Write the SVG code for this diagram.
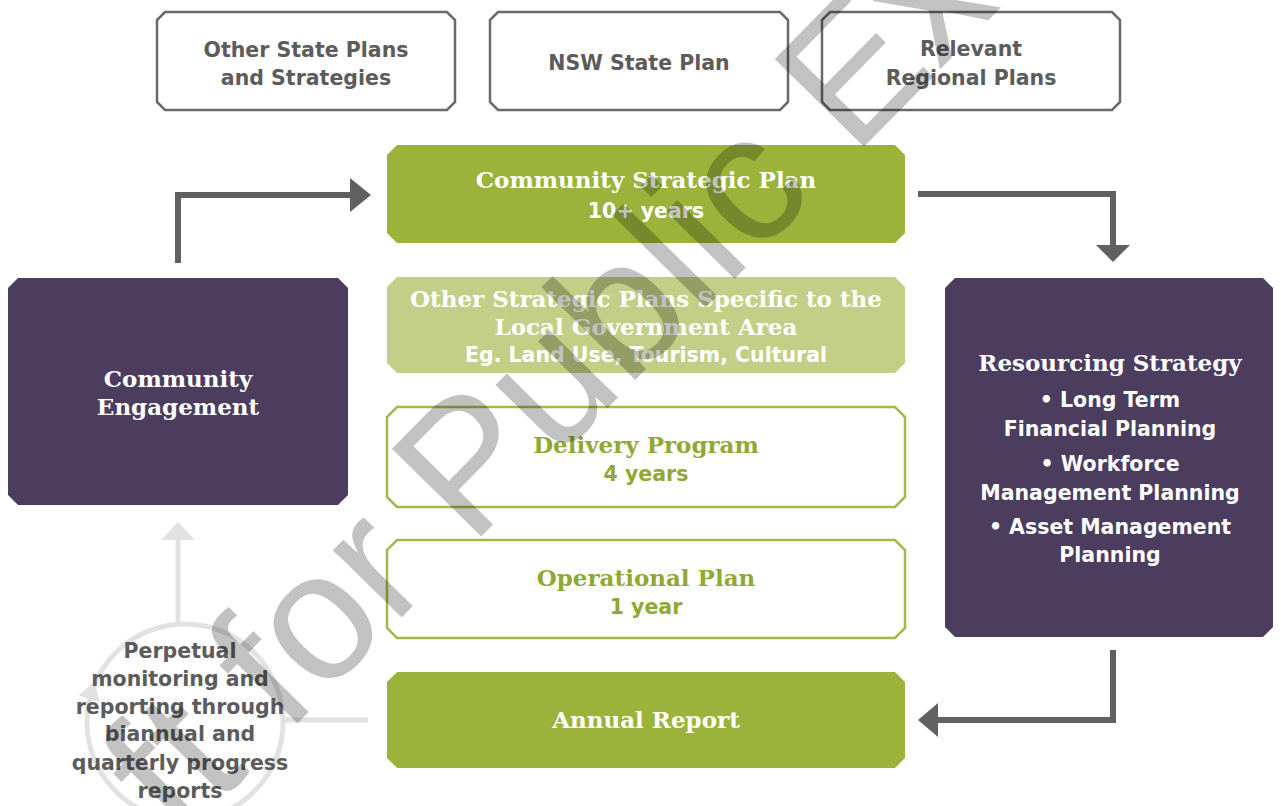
<svg xmlns="http://www.w3.org/2000/svg" width="1281" height="806" viewBox="0 0 1281 806">
<style>
.sans{font-family:"DejaVu Sans","Liberation Sans",Arial,sans-serif;font-weight:700;font-size:20.5px;text-anchor:middle}
.slab{font-family:"DejaVu Serif","Liberation Serif",serif;font-weight:700;font-size:23px;text-anchor:middle}
.grey{fill:#5c5c5c}
.white{fill:#ffffff}
.greentxt{fill:#90a834}
.topbox{fill:#ffffff;stroke:#6a6a6a;stroke-width:2.5}
.green{fill:#9cb33b}
.lightgreen{fill:#c3cf87}
.outline{fill:#ffffff;stroke:#a3b94c;stroke-width:2.5}
.purple{fill:#4c3d5f}
.conn{fill:none;stroke:#606060;stroke-width:6}
.head{fill:#606060}
.faint{fill:none;stroke:#e2e2e2;stroke-width:5}
.fainthead{fill:#e2e2e2}
.wm{font-family:"Liberation Sans",Arial,sans-serif;font-size:182px;fill:#000;fill-opacity:0.24}
</style>
<rect width="1281" height="806" fill="#ffffff"/>

<g id="connectors">
  <path class="conn" d="M178,263 V195 H352"/>
  <polygon class="head" points="350,178 371,195 350,212"/>
  <path class="conn" d="M918,194 H1113 V247"/>
  <polygon class="head" points="1096,245 1130,245 1113,262"/>
  <path class="conn" d="M1113,650 V720 H937"/>
  <polygon class="head" points="938,703 918,720 938,737"/>
  <circle class="faint" cx="185" cy="722" r="98"/>
  <polygon class="fainthead" points="94.5,681.5 78.7,695.5 99.7,702.1"/>
  <path class="faint" d="M283,720 H368"/>
  <path class="faint" d="M178,625 V538"/>
  <polygon class="fainthead" points="161,540 178,522 195,540"/>
</g>

<g id="other-state-plans">
  <path class="topbox" d="M165,12 H447 L455,20 V102 L447,110 H165 L157,102 V20 Z"/>
  <text class="sans grey" x="306" y="57">Other State Plans</text>
  <text class="sans grey" x="306" y="85">and Strategies</text>
</g>
<g id="nsw-state-plan">
  <path class="topbox" d="M498,12 H780 L788,20 V102 L780,110 H498 L490,102 V20 Z"/>
  <text class="sans grey" x="639" y="70">NSW State Plan</text>
</g>
<g id="regional-plans">
  <path class="topbox" d="M830,12 H1112 L1120,20 V102 L1112,110 H830 L822,102 V20 Z"/>
  <text class="sans grey" x="971" y="56">Relevant</text>
  <text class="sans grey" x="971" y="85">Regional Plans</text>
</g>

<g id="community-strategic-plan">
  <path class="green" d="M397,145 H895 L905,155 V233 L895,243 H397 L387,233 V155 Z"/>
  <text class="slab white" x="646" y="188">Community Strategic Plan</text>
  <text class="sans white" x="646" y="218">10+ years</text>
</g>
<g id="other-strategic-plans">
  <path class="lightgreen" d="M397,277 H895 L905,287 V363 L895,373 H397 L387,363 V287 Z"/>
  <text class="slab white" x="646" y="307">Other Strategic Plans Specific to the</text>
  <text class="slab white" x="646" y="335">Local Government Area</text>
  <text class="sans white" x="646" y="362">Eg. Land Use, Tourism, Cultural</text>
</g>
<g id="delivery-program">
  <path class="outline" d="M397,407 H895 L905,417 V497 L895,507 H397 L387,497 V417 Z"/>
  <text class="slab greentxt" x="646" y="453">Delivery Program</text>
  <text class="sans greentxt" x="646" y="481">4 years</text>
</g>
<g id="operational-plan">
  <path class="outline" d="M397,540 H895 L905,550 V628 L895,638 H397 L387,628 V550 Z"/>
  <text class="slab greentxt" x="646" y="586">Operational Plan</text>
  <text class="sans greentxt" x="646" y="614">1 year</text>
</g>
<g id="annual-report">
  <path class="green" d="M397,672 H895 L905,682 V758 L895,768 H397 L387,758 V682 Z"/>
  <text class="slab white" x="646" y="728">Annual Report</text>
</g>

<g id="community-engagement">
  <path class="purple" d="M18,278 H338 L348,288 V495 L338,505 H18 L8,495 V288 Z"/>
  <text class="slab white" x="178" y="387">Community</text>
  <text class="slab white" x="178" y="415">Engagement</text>
</g>
<g id="resourcing-strategy">
  <path class="purple" d="M955,278 H1263 L1273,288 V627 L1263,637 H955 L945,627 V288 Z"/>
  <text class="slab white" x="1110" y="371">Resourcing Strategy</text>
  <text class="sans white" x="1110" y="407">• Long Term</text>
  <text class="sans white" x="1110" y="436">Financial Planning</text>
  <text class="sans white" x="1110" y="471">• Workforce</text>
  <text class="sans white" x="1110" y="500">Management Planning</text>
  <text class="sans white" x="1110" y="534">• Asset Management</text>
  <text class="sans white" x="1110" y="562">Planning</text>
</g>

<g id="monitoring">
  <text class="sans grey" x="180" y="658">Perpetual</text>
  <text class="sans grey" x="180" y="686">monitoring and</text>
  <text class="sans grey" x="180" y="714">reporting through</text>
  <text class="sans grey" x="180" y="741">biannual and</text>
  <text class="sans grey" x="180" y="770">quarterly progress</text>
  <text class="sans grey" x="180" y="798">reports</text>
</g>

<g id="watermark">
  <text class="wm" transform="translate(180,843) rotate(-45.5)">ft for Public Ex</text>
</g>
</svg>
